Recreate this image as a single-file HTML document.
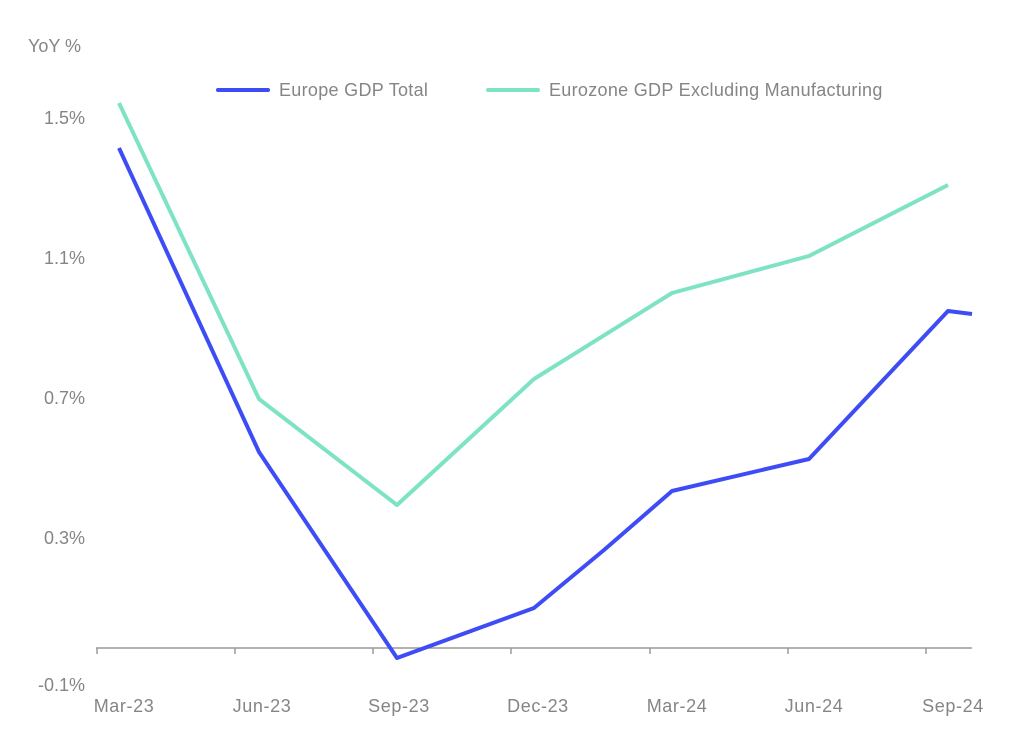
<!DOCTYPE html>
<html><head><meta charset="utf-8"><style>body{margin:0;background:#fff}svg{display:block}text{font-family:"Liberation Sans",sans-serif;fill:#858585;font-size:18px;font-weight:500}</style></head>
<body>
<svg width="1024" height="748" xmlns="http://www.w3.org/2000/svg">
<text x="28" y="52" font-size="17">YoY %</text>
<g text-anchor="end">
<text x="85" y="124">1.5%</text>
<text x="85" y="264">1.1%</text>
<text x="85" y="404">0.7%</text>
<text x="85" y="544">0.3%</text>
<text x="85" y="691">-0.1%</text>
</g>
<line x1="96" y1="648" x2="972" y2="648" stroke="#9a9a9a" stroke-width="1.5"/>
<g stroke="#9a9a9a" stroke-width="1.5">
<line x1="97" y1="648" x2="97" y2="654"/><line x1="235" y1="648" x2="235" y2="654"/><line x1="373" y1="648" x2="373" y2="654"/><line x1="511" y1="648" x2="511" y2="654"/><line x1="650" y1="648" x2="650" y2="654"/><line x1="788" y1="648" x2="788" y2="654"/><line x1="926" y1="648" x2="926" y2="654"/>
</g>
<g text-anchor="middle" letter-spacing="0.6">
<text x="124" y="712">Mar-23</text><text x="262" y="712">Jun-23</text><text x="399" y="712">Sep-23</text><text x="538" y="712">Dec-23</text><text x="677" y="712">Mar-24</text><text x="814" y="712">Jun-24</text><text x="953" y="712">Sep-24</text>
</g>
<line x1="218" y1="90" x2="268" y2="90" stroke="#3d4cf5" stroke-width="4" stroke-linecap="round"/>
<text x="279" y="96" font-size="18.5" letter-spacing="0.3">Europe GDP Total</text>
<line x1="488" y1="90" x2="538" y2="90" stroke="#7ee3c5" stroke-width="4" stroke-linecap="round"/>
<text x="549" y="96" font-size="18.5" letter-spacing="0.3">Eurozone GDP Excluding Manufacturing</text>
<polyline fill="none" stroke="#7ee3c5" stroke-width="4" stroke-linejoin="round" points="119,103 259,399 397,505 534,379 672,293 809,256 948,185"/>
<polyline fill="none" stroke="#3d4cf5" stroke-width="4" stroke-linejoin="round" points="119,148 259,452 397,658 534,608 604,550 672,491 809,459 948,311 972,314"/>
</svg>
</body></html>
